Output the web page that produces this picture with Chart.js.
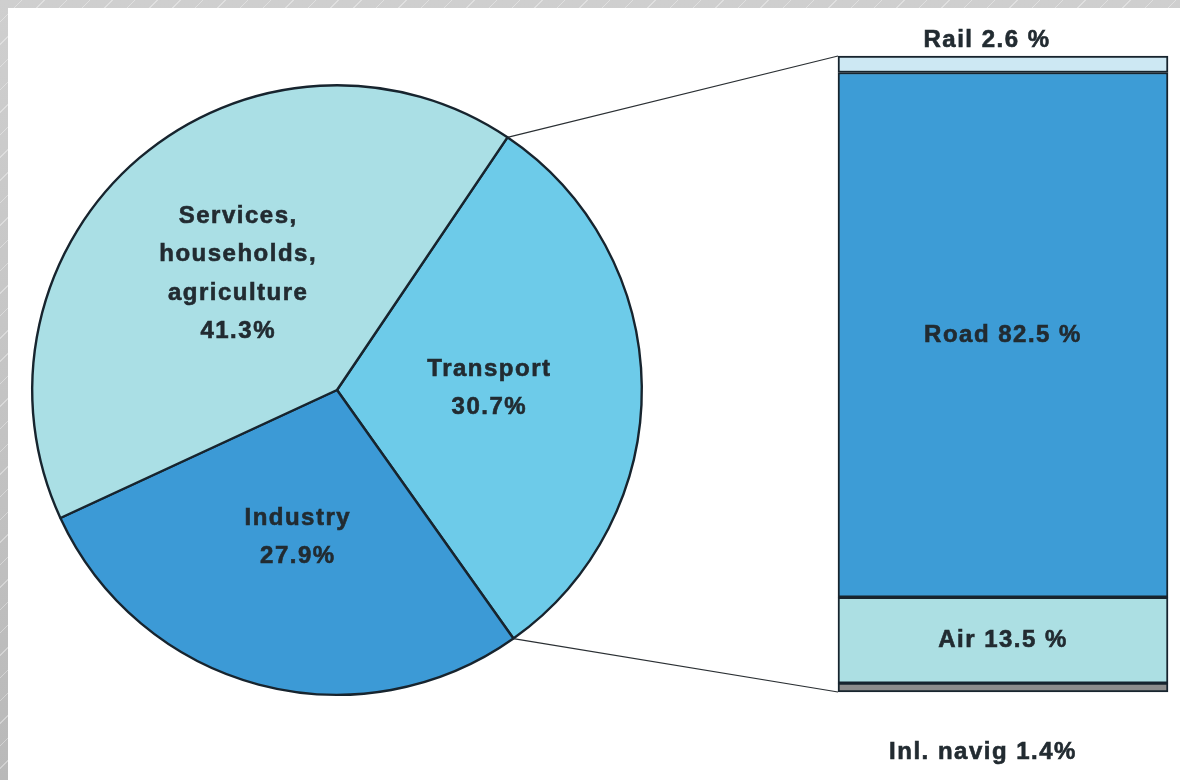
<!DOCTYPE html>
<html>
<head>
<meta charset="utf-8">
<script src="https://cdn.jsdelivr.net/npm/chart.js@4.4.1/dist/chart.umd.min.js"></script>
<style>
  html, body { margin: 0; padding: 0; }
  body {
    width: 1180px; height: 780px; overflow: hidden; position: relative;
    background:
      repeating-linear-gradient(135deg, rgba(255,255,255,0) 0px, rgba(255,255,255,0) 15px, rgba(255,255,255,0.35) 15px, rgba(255,255,255,0.35) 16px),
      linear-gradient(180deg, #cfcfcf 0%, #c2c2c2 60%, #b9b9b9 100%);
  }
  #panel { position: absolute; left: 8px; top: 8px; right: 0; bottom: 0; background: #ffffff; }
  canvas.layer { position: absolute; left: 0; top: 0; }
</style>
</head>
<body>
<div id="panel"></div>
<canvas id="pie" class="layer" width="1180" height="780"></canvas>
<canvas id="bar" class="layer" width="1180" height="780"></canvas>
<script>
// Final energy consumption by sector
const sectorLabels = [["Transport", "30.7%"], ["Industry", "27.9%"], ["Services,", "households,", "agriculture", "41.3%"]];
const sectorValues = [30.7, 27.9, 41.3];
const sectorColors = ["#6dcbe9", "#3c9ad6", "#aadfe5"];

// Transport split by mode (listed bottom to top of the stack)
const modeNames = ["Inl. navig", "Air", "Road", "Rail"];
const modeLabels = ["Inl. navig 1.4%", "Air 13.5 %", "Road 82.5 %", "Rail 2.6 %"];
const modeValues = [1.4, 13.5, 82.5, 2.6];
const modeColors = ["#8c8c8c", "#acdfe3", "#3d9cd6", "#cde8f3"];

const INK = "#222b31";
const FONT = "bold 24px 'Liberation Sans', Arial, sans-serif";

function drawText(ctx, lines, x, y, lh) {
  ctx.save();
  ctx.font = FONT;
  ctx.fillStyle = INK;
  ctx.strokeStyle = INK;
  ctx.lineWidth = 0.6;
  ctx.textAlign = "center";
  ctx.textBaseline = "middle";
  try { ctx.letterSpacing = "1.5px"; } catch (e) {}
  const top = y - (lines.length - 1) * lh / 2;
  lines.forEach((t, i) => {
    ctx.fillText(t, x, top + i * lh);
    ctx.strokeText(t, x, top + i * lh);
  });
  ctx.restore();
}

// Pie slice labels at each slice's centre point
const pieLabelPlugin = {
  id: "pieLabels",
  afterDatasetsDraw(chart) {
    const ctx = chart.ctx;
    chart.getDatasetMeta(0).data.forEach((arc, i) => {
      const p = arc.getCenterPoint();
      drawText(ctx, sectorLabels[i], p.x, p.y, 38.5);
    });
  }
};

const pieChart = new Chart(document.getElementById("pie"), {
  type: "pie",
  data: {
    labels: sectorLabels.map(l => l.join(" ")),
    datasets: [{
      data: sectorValues,
      backgroundColor: sectorColors,
      borderColor: "#17242e",
      borderWidth: 2.4,
      hoverOffset: 0
    }]
  },
  options: {
    responsive: false,
    animation: false,
    rotation: 34,
    layout: { padding: { left: 31, right: 537, top: 84, bottom: 84 } },
    plugins: { legend: { display: false }, tooltip: { enabled: false } },
    events: []
  },
  plugins: [pieLabelPlugin]
});

// Segment labels and the lines tying the Transport slice to the stacked bar
const barDecorPlugin = {
  id: "barDecor",
  afterDatasetsDraw(chart) {
    const ctx = chart.ctx;
    const bars = modeValues.map((v, i) => chart.getDatasetMeta(i).data[0]);
    const top = bars[3], bottom = bars[0];
    const left = top.x - top.width / 2;

    // connector lines from the Transport slice edges to the bar corners
    const arc = pieChart.getDatasetMeta(0).data[0];
    const pa = arc.startAngle, pb = arc.endAngle, r = arc.outerRadius;
    ctx.save();
    ctx.strokeStyle = "#2a2f33";
    ctx.lineWidth = 1.2;
    ctx.beginPath();
    ctx.moveTo(arc.x + r * Math.cos(pa), arc.y + r * Math.sin(pa));
    ctx.lineTo(left, top.y);
    ctx.moveTo(arc.x + r * Math.cos(pb), arc.y + r * Math.sin(pb));
    ctx.lineTo(left, bottom.base);
    ctx.stroke();
    ctx.restore();

    // labels: inside for Road and Air, outside for Rail and Inl. navig
    drawText(ctx, [modeLabels[2]], bars[2].x, (bars[2].y + bars[2].base) / 2, 0);
    drawText(ctx, [modeLabels[1]], bars[1].x, (bars[1].y + bars[1].base) / 2, 0);
    drawText(ctx, [modeLabels[3]], top.x - 16, top.y - 16, 0);
    drawText(ctx, [modeLabels[0]], bottom.x - 20, bottom.base + 60, 0);
  }
};

new Chart(document.getElementById("bar"), {
  type: "bar",
  data: {
    labels: ["Transport"],
    datasets: modeValues.map((v, i) => ({
      label: modeNames[i],
      data: [v],
      backgroundColor: modeColors[i],
      borderColor: "#17242e",
      borderWidth: 2,
      borderSkipped: false,
      barPercentage: 1,
      categoryPercentage: 1,
      clip: 4
    }))
  },
  options: {
    responsive: false,
    animation: false,
    layout: { padding: { left: 838, right: 12, top: 56, bottom: 88 } },
    scales: {
      x: { stacked: true, display: false },
      y: { stacked: true, display: false, min: 0, max: 100 }
    },
    plugins: { legend: { display: false }, tooltip: { enabled: false } },
    events: []
  },
  plugins: [barDecorPlugin]
});
</script>
</body>
</html>
